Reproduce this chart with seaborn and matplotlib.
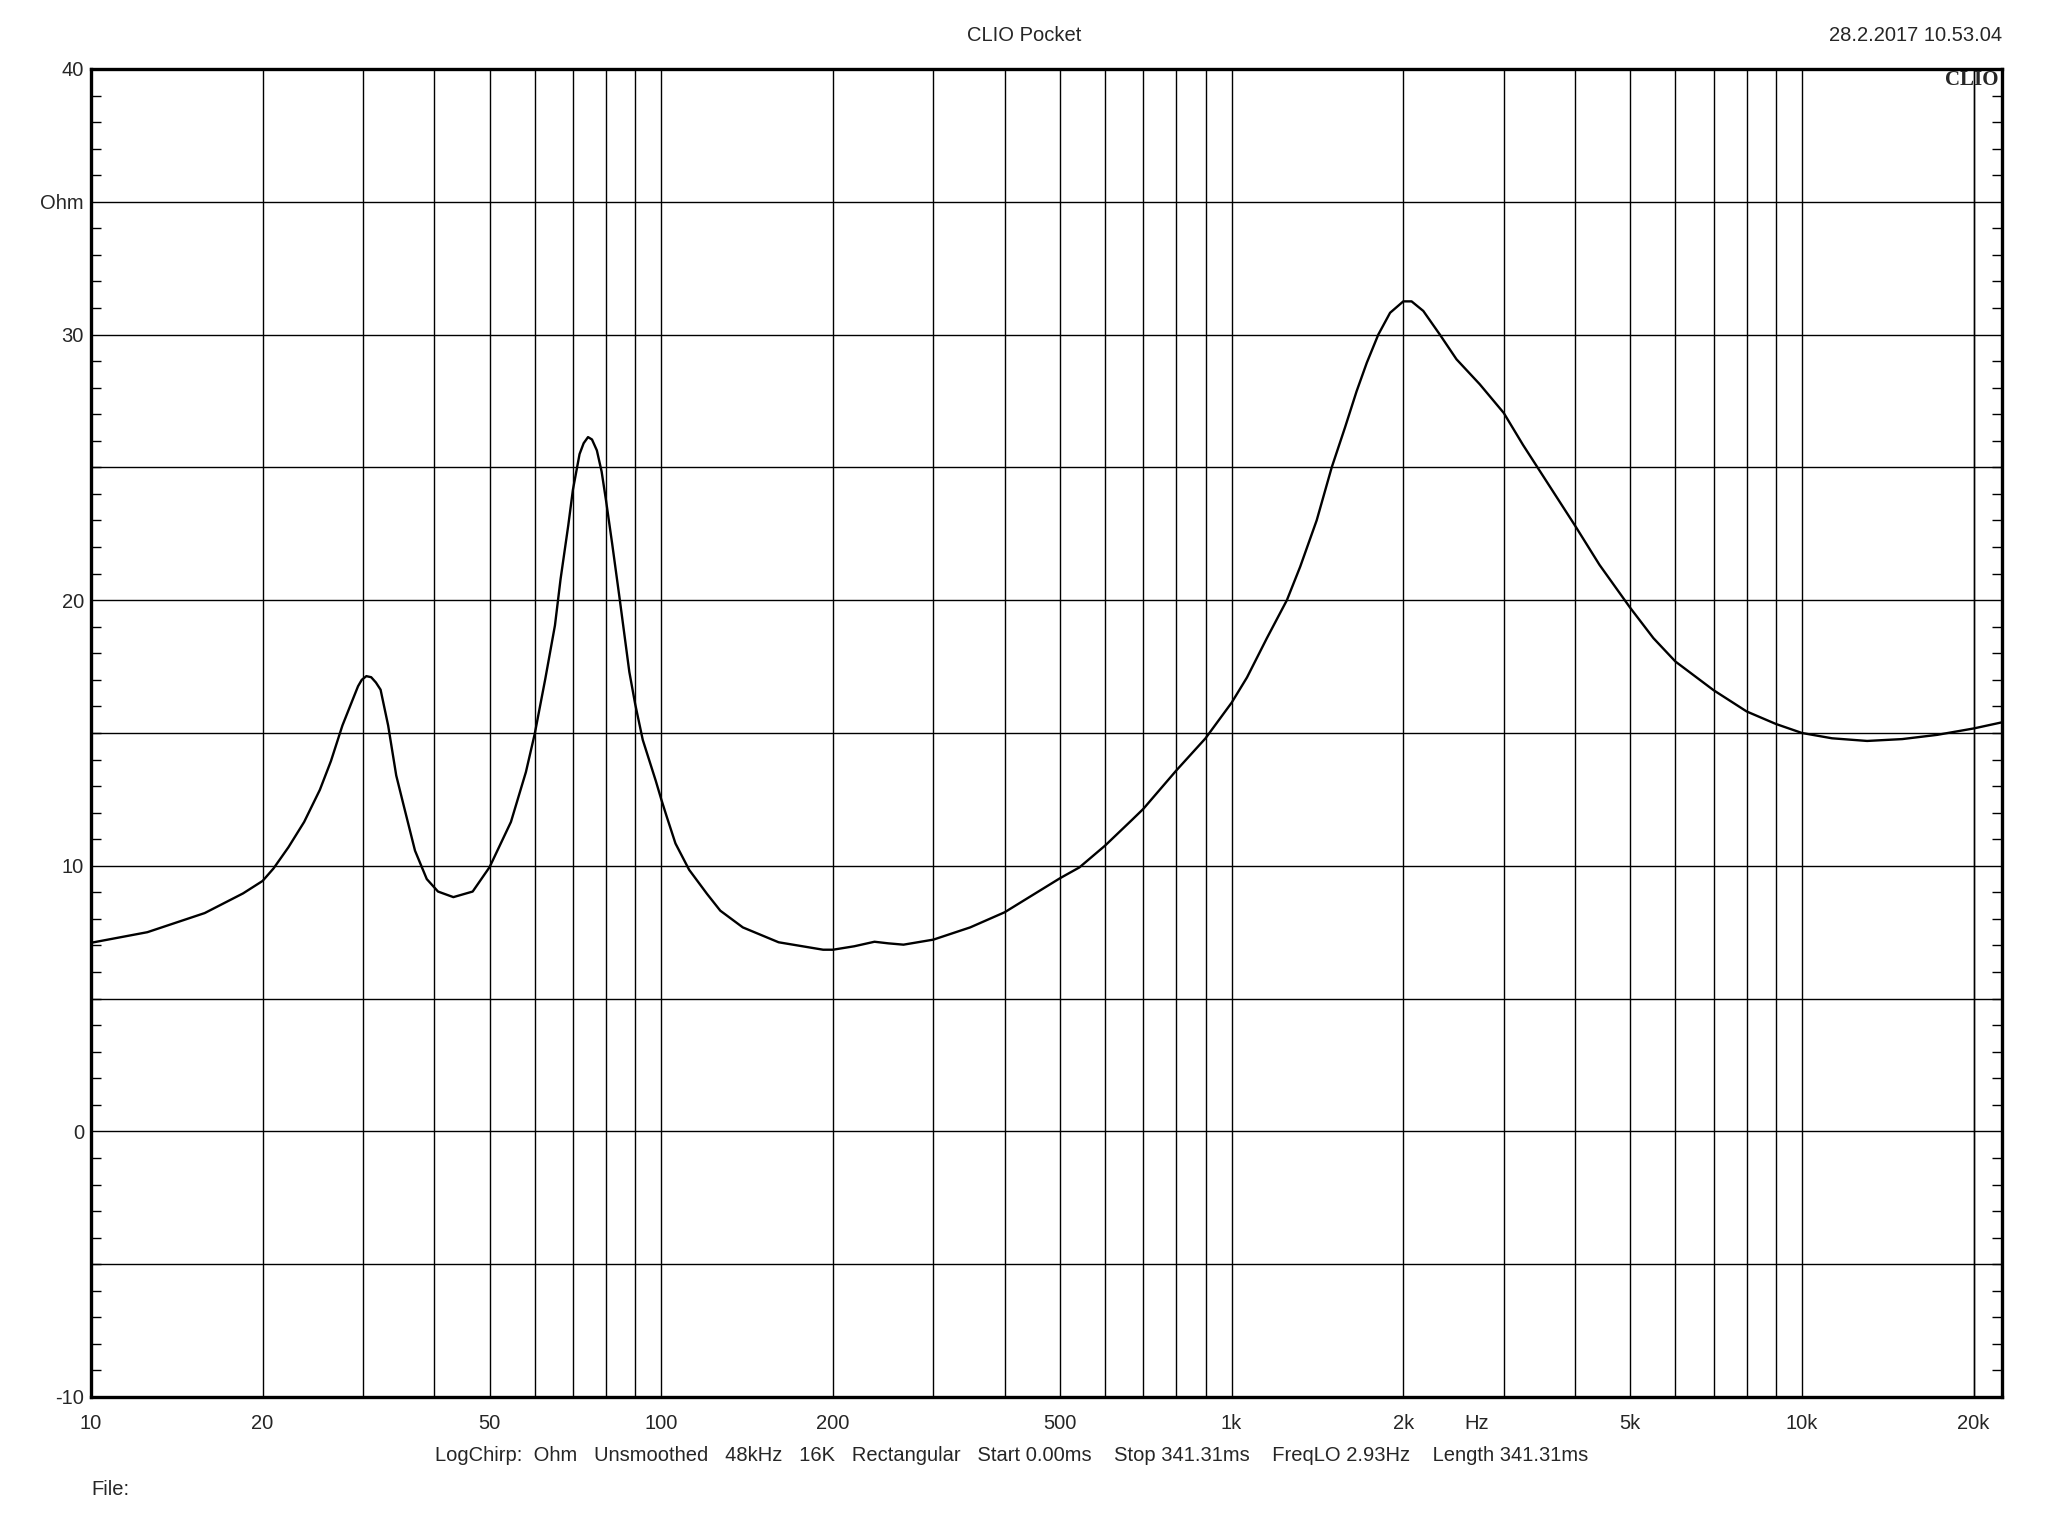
import numpy as np
import pandas as pd
import matplotlib
matplotlib.use('Agg')
import matplotlib.pyplot as plt
import matplotlib.transforms as mtransforms
import seaborn as sns

# Impedance curve (Hz, Ohm)
freq = [10, 12.56, 15.83, 18.48, 20, 20.9, 22.2, 23.65, 25.2, 26.35, 27.6, 28.9,
        29.4, 29.84, 30.4, 31.0, 31.6, 32.2, 33.2, 34.3, 35.3, 37.0, 38.8, 40.6,
        43.2, 46.7, 50, 54.5, 57.9, 60, 62.6, 65.1, 66.6, 68.7, 70, 71.9, 73.1,
        74.4, 75.6, 77.1, 78.6, 80, 82.0, 84.6, 87.9, 90, 92.8, 97.8, 100, 102.3,
        105.9, 111.9, 120.3, 126.9, 139, 160.6, 192.2, 200, 218, 236.5, 250,
        265.9, 300, 348, 400, 500, 541, 600, 669, 700, 800, 900, 1000, 1064, 1153,
        1250, 1319, 1410, 1498, 1581, 1656, 1726, 1808, 1896, 2000, 2068, 2168,
        2318, 2479, 2723, 3000, 3244, 3450, 4000, 4416, 5000, 5490, 6000, 7000,
        8000, 9000, 10000, 11290, 13010, 14990, 17270, 20000, 22410]
ohm = [7.1, 7.5, 8.22, 8.96, 9.43, 9.9, 10.7, 11.65, 12.86, 13.94, 15.28, 16.36,
       16.76, 17.0, 17.14, 17.1, 16.9, 16.63, 15.28, 13.4, 12.32, 10.57, 9.5, 9.03,
       8.82, 9.03, 9.95, 11.65, 13.53, 14.97, 17.03, 19.05, 20.8, 22.82, 24.16,
       25.5, 25.91, 26.14, 26.05, 25.64, 24.84, 23.76, 22.14, 20.0, 17.3, 16.09,
       14.74, 13.2, 12.5, 11.83, 10.84, 9.85, 8.94, 8.31, 7.68, 7.12, 6.84, 6.84,
       6.97, 7.14, 7.08, 7.03, 7.22, 7.68, 8.25, 9.53, 9.94, 10.76, 11.73, 12.14,
       13.59, 14.8, 16.14, 17.09, 18.57, 20.0, 21.26, 23.01, 25.0, 26.51, 27.86,
       28.94, 30.0, 30.82, 31.25, 31.25, 30.89, 30.0, 29.07, 28.13, 27.05, 25.84,
       24.95, 22.81, 21.33, 19.71, 18.57, 17.69, 16.61, 15.81, 15.34, 15.0, 14.8,
       14.7, 14.77, 14.93, 15.17, 15.4]

x_ticks = [10, 20, 50, 100, 200, 500, 1000, 2000, 5000, 10000, 20000]
x_labels = ['10', '20', '50', '100', '200', '500', '1k', '2k', '5k', '10k', '20k']
y_ticks = [40, 35, 30, 20, 10, 0, -10]
y_labels = ['40', 'Ohm', '30', '20', '10', '0', '-10']

df = pd.DataFrame({'Hz': freq, 'Ohm': ohm})

sns.set_style('white')
plt.rcParams['font.family'] = ['Liberation Sans', 'DejaVu Sans']
FS = 14.5

fig = plt.figure(figsize=(20.48, 15.36), dpi=100)
ax = fig.add_axes([0.0444, 0.0905, 0.9330, 0.8646])

# grid lines: every 1-9 multiple in x, every 5 Ohm in y
xgrid = [m * d for d in [10, 100, 1000, 10000] for m in range(1, 10)] + [20000]
for g in xgrid:
    ax.axvline(g, color='black', lw=1.0, zorder=1)
for g in range(-5, 40, 5):
    ax.axhline(g, color='black', lw=1.0, zorder=1)

sns.lineplot(data=df, x='Hz', y='Ohm', ax=ax, color='black', lw=1.7,
             estimator=None, sort=False, zorder=3)

ax.set_xscale('log')
ax.set_xlim(10, 22400)
ax.set_ylim(-10, 40)
ax.set_xlabel('')
ax.set_ylabel('')

ax.set_xticks(x_ticks)
ax.set_xticklabels(x_labels, fontsize=FS)
ax.xaxis.set_minor_locator(matplotlib.ticker.NullLocator())
ax.tick_params(axis='x', length=0, pad=12)

ax.set_yticks(y_ticks)
ax.set_yticklabels(y_labels, fontsize=FS)
ax.set_yticks(range(-10, 41), minor=True)
ax.tick_params(axis='y', which='major', length=0, pad=5)
ax.tick_params(axis='y', which='minor', direction='in', length=7, width=1.0,
               left=True, right=True, color='black')

for s in ax.spines.values():
    s.set_visible(True)
    s.set_color('black')
    s.set_linewidth(2.4)

# "Hz" sits in the tick label row without a grid line
trans = mtransforms.blended_transform_factory(ax.transData, ax.transAxes)
ax.text(2690, -0.0128, 'Hz', transform=trans, ha='center', va='top', fontsize=FS)

ax.text(0.9985, 0.999, 'CLIO', transform=ax.transAxes, ha='right', va='top',
        fontsize=15, fontweight='bold', family=['Liberation Serif', 'DejaVu Serif'])

fig.text(0.5, 0.977, 'CLIO Pocket', ha='center', va='center', fontsize=FS)
fig.text(0.9775, 0.977, '28.2.2017 10.53.04', ha='right', va='center', fontsize=FS)
fig.text(0.494, 0.0527,
         'LogChirp:  Ohm   Unsmoothed   48kHz   16K   Rectangular   Start 0.00ms    '
         'Stop 341.31ms    FreqLO 2.93Hz    Length 341.31ms',
         ha='center', va='center', fontsize=FS)
fig.text(0.0444, 0.0305, 'File:', ha='left', va='center', fontsize=FS)

fig.savefig('out.png', dpi=100, facecolor='white')
